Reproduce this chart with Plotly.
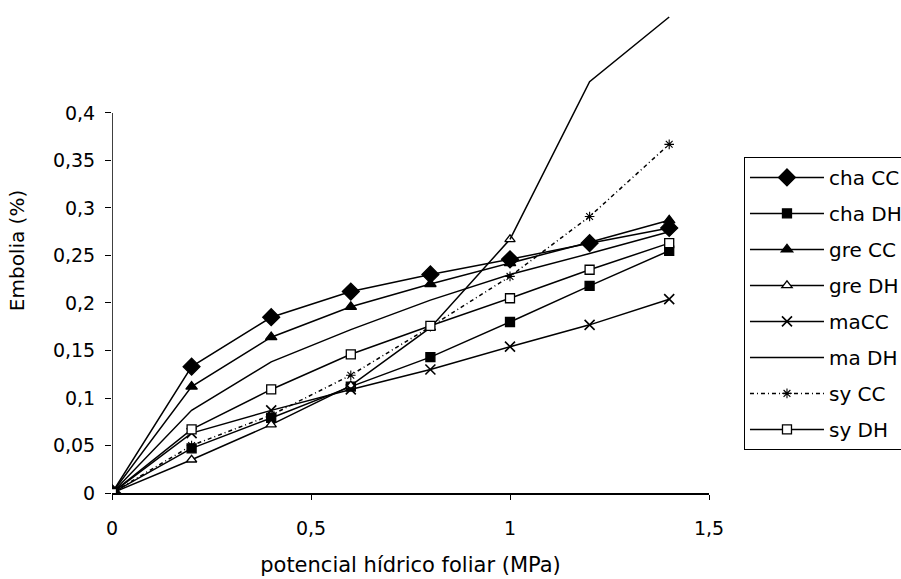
import plotly.graph_objects as go

x_vals = [0, 0.2, 0.4, 0.6, 0.8, 1.0, 1.2, 1.4]

cha_cc = [0, 0.133, 0.185, 0.212, 0.230, 0.246, 0.263, 0.279]
cha_dh = [0, 0.047, 0.079, 0.112, 0.143, 0.180, 0.218, 0.255]
gre_cc = [0, 0.112, 0.164, 0.196, 0.220, 0.242, 0.264, 0.287]
gre_dh = [0, 0.035, 0.072, 0.113, 0.174, 0.267, 0.433, 0.501]
ma_cc = [0, 0.063, 0.087, 0.109, 0.130, 0.154, 0.177, 0.204]
ma_dh = [0, 0.087, 0.138, 0.172, 0.203, 0.230, 0.252, 0.275]
sy_cc = [0, 0.050, 0.082, 0.124, 0.175, 0.228, 0.291, 0.367]
sy_dh = [0, 0.067, 0.109, 0.146, 0.176, 0.205, 0.235, 0.263]

y_ticks = [0, 0.05, 0.1, 0.15, 0.2, 0.25, 0.3, 0.35, 0.4]
y_tick_text = ["0", "0,05", "0,1", "0,15", "0,2", "0,25", "0,3", "0,35", "0,4"]
x_ticks = [0, 0.5, 1, 1.5]
x_tick_text = ["0", "0,5", "1", "1,5"]

FONT = "DejaVu Sans, Arial, sans-serif"
LW = 1.5

fig = go.Figure()

def add(name, y, symbol, size, fill="black", dash="solid", mode="lines+markers", xs=None, show=True, group=None, mlw=1.3):
    fig.add_trace(go.Scatter(
        x=xs if xs is not None else x_vals, y=y, name=name, mode=mode,
        line=dict(color="black", width=LW, dash=dash),
        marker=dict(symbol=symbol, size=size, color=fill,
                    line=dict(color="black", width=mlw)),
        showlegend=show, legendgroup=group or name,
    ))

add("cha CC", cha_cc, "diamond", 13)
add("cha DH", cha_dh, "square", 9)
add("gre CC", gre_cc, "triangle-up", 10)
# gre DH: markers up to 1.0, plain line beyond
add("gre DH", gre_dh[:6], "triangle-up", 9, fill="white", xs=x_vals[:6])
add("gre DH", gre_dh[5:], "triangle-up", 9, fill="white", mode="lines", xs=x_vals[5:], show=False, group="gre DH")
add("maCC", ma_cc, "x-thin", 10, mlw=1.6)
add("ma DH", ma_dh, "circle", 1, mode="lines")
add("sy CC", sy_cc, "asterisk", 8, dash="4px,3px,1px,3px", mlw=1.1)
add("sy DH", sy_dh, "square", 9, fill="white")

# y axis line only up to 0.4
fig.add_shape(type="line", x0=0, x1=0, y0=0, y1=0.4, xref="x", yref="y",
              line=dict(color="black", width=1.5), layer="below")

fig.update_layout(
    width=901, height=579,
    margin=dict(l=112, r=192, t=8, b=86, autoexpand=False),
    paper_bgcolor="white", plot_bgcolor="white",
    font=dict(family=FONT, size=19, color="black"),
    showlegend=True,
    legend=dict(
        x=1.0586, y=0.693, xanchor="left", yanchor="top",
        bordercolor="black", borderwidth=1, bgcolor="white",
        itemwidth=74, tracegroupgap=7,
        font=dict(family=FONT, size=20, color="black"),
    ),
    xaxis=dict(
        range=[0, 1.5], tickvals=x_ticks, ticktext=x_tick_text, automargin=False,
        showgrid=False, zeroline=False, showline=True, linecolor="black", linewidth=1.5,
        ticks="outside", ticklen=5, tickcolor="black", ticklabelstandoff=12,
        title=dict(text="potencial hídrico foliar (MPa)", font=dict(size=21), standoff=20),
    ),
    yaxis=dict(
        range=[0, 0.5105], tickvals=y_ticks, ticktext=y_tick_text, automargin=False,
        showgrid=False, zeroline=False, showline=False,
        ticks="outside", ticklen=6, tickcolor="black", ticklabelstandoff=6,
        title=dict(text="Embolia (%)", font=dict(size=20), standoff=22),
    ),
)

fig.write_html(
    "out.html",
    config={"displayModeBar": False},
    post_script="document.body.style.margin='0';document.body.style.overflow='hidden';",
)
